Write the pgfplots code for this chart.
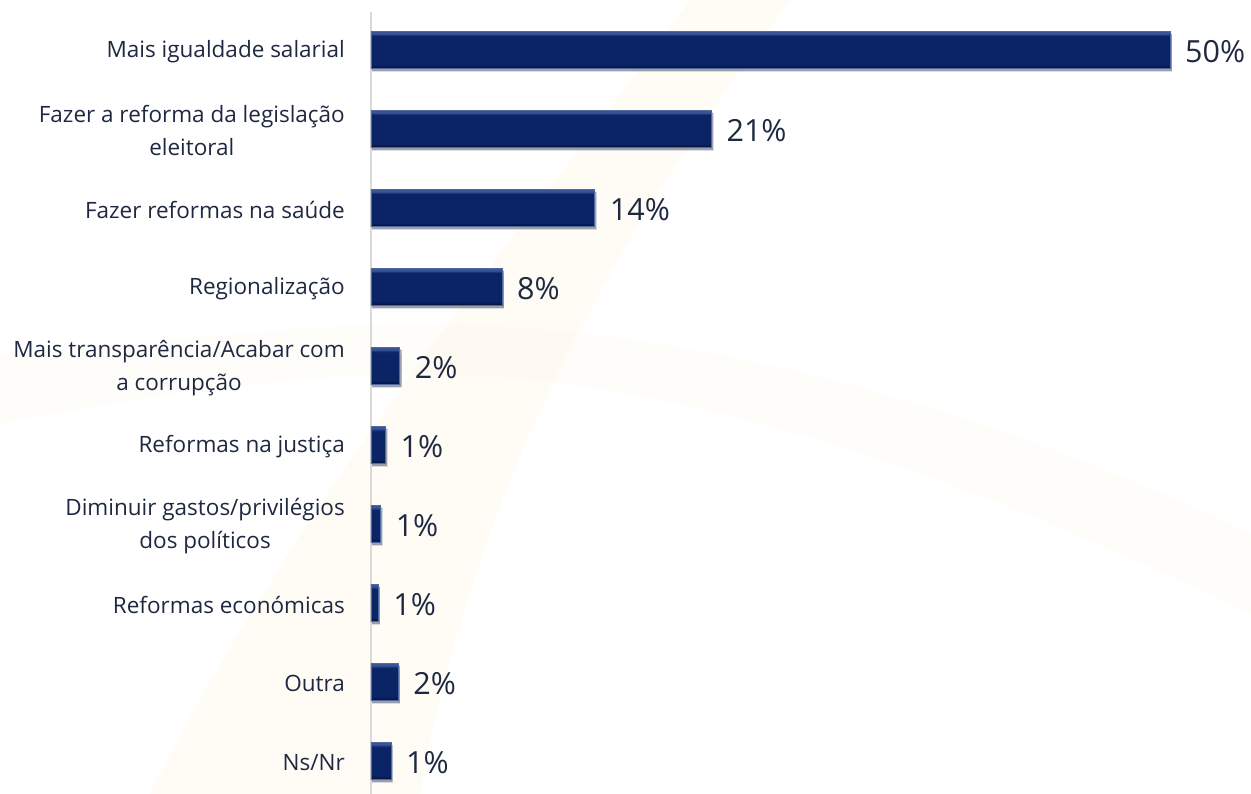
\documentclass[border=0pt]{standalone}
\usepackage{pgfplots}
\pgfplotsset{compat=1.18}
\usepackage{fontspec}
\setmainfont{Open Sans}
\usetikzlibrary{shadows}

\definecolor{txt}{RGB}{30,40,65}
\definecolor{bmain}{RGB}{11,36,102}
\definecolor{btop}{RGB}{55,85,152}
\definecolor{bbot}{RGB}{6,22,70}
\definecolor{bedge}{RGB}{80,105,160}
\definecolor{axgray}{RGB}{217,217,217}
\definecolor{wm}{RGB}{250,200,110}

\pgfdeclareverticalshading{bevel}{100bp}{color(0bp)=(bbot); color(25bp)=(bbot); color(27bp)=(bbot); color(30bp)=(bmain); color(69bp)=(bmain); color(72bp)=(btop); color(75bp)=(btop); color(100bp)=(btop)}

\pgfplotsset{mybar/.style={xbar, bar width=37pt, bar shift=0pt, shading=bevel, draw=bedge, line width=0.6pt,
  drop shadow={shadow xshift=1.5pt, shadow yshift=-2.5pt, fill=black, opacity=0.22}}}

\begin{document}
\begin{tikzpicture}
\useasboundingbox (0,0) rectangle (1251pt,794pt);
% faint watermark swoosh
\fill[wm, opacity=0.06] (690pt,794pt) .. controls (520pt,560pt) and (300pt,300pt) .. (150pt,0pt)
  -- (420pt,0pt) .. controls (480pt,330pt) and (620pt,560pt) .. (790pt,794pt) -- cycle;
\fill[wm, opacity=0.04] (0pt,370pt) .. controls (150pt,400pt) and (300pt,420pt) .. (420pt,420pt)
  .. controls (700pt,420pt) and (1000pt,300pt) .. (1251pt,180pt) -- (1251pt,260pt)
  .. controls (1000pt,380pt) and (700pt,470pt) .. (420pt,470pt)
  .. controls (300pt,470pt) and (150pt,450pt) .. (0pt,440pt) -- cycle;
\begin{axis}[
  at={(371pt,782pt)}, anchor=north west,
  scale only axis,
  width=878.9pt, height=782.1pt,
  xmin=0, xmax=55,
  ymin=-0.48, ymax=9.42,
  y dir=reverse,
  axis x line=none,
  axis y line*=left,
  axis line style={draw=axgray, line width=2.5pt},
  ytick={0,...,9},
  major tick length=0pt,
  ytick style={draw=none},
  yticklabels={
    Mais igualdade salarial,
    {Fazer a reforma da legislação\\eleitoral},
    Fazer reformas na saúde,
    Regionalização,
    {Mais transparência/Acabar com\\a corrupção},
    Reformas na justiça,
    {Diminuir gastos/privilégios\\dos políticos},
    Reformas económicas,
    Outra,
    Ns/Nr},
  yticklabel style={align=center, inner sep=0pt, xshift=-26pt, yshift=-2pt, text=txt,
    font=\fontsize{22.5}{33}\selectfont},
  clip=false,
]
\addplot[mybar] coordinates {(50,0)};
\addplot[mybar] coordinates {(21.3,1)};
\addplot[mybar] coordinates {(14,2)};
\addplot[mybar] coordinates {(8.2,3)};
\addplot[mybar] coordinates {(1.8,4)};
\addplot[mybar] coordinates {(0.9,5)};
\addplot[mybar] coordinates {(0.6,6)};
\addplot[mybar] coordinates {(0.45,7)};
\addplot[mybar] coordinates {(1.7,8)};
\addplot[mybar] coordinates {(1.25,9)};
\addplot[only marks, mark=none, point meta=explicit symbolic,
  nodes near coords, nodes near coords align={anchor=west},
  every node near coord/.append style={anchor=west, inner sep=0pt, xshift=15pt, yshift=-2pt, text=txt,
    font=\fontsize{30.5}{32}\selectfont}]
  coordinates {(50,0) [50\%] (21.3,1) [21\%] (14,2) [14\%] (8.2,3) [8\%] (1.8,4) [2\%]
    (0.9,5) [1\%] (0.6,6) [1\%] (0.45,7) [1\%] (1.7,8) [2\%] (1.25,9) [1\%]};
\end{axis}
\end{tikzpicture}
\end{document}
